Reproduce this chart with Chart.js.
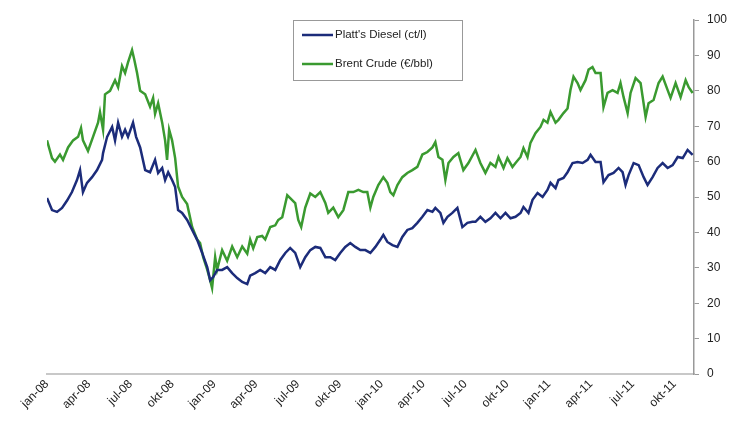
<!DOCTYPE html>
<html>
<head>
<meta charset="utf-8">
<script src="https://cdn.jsdelivr.net/npm/chart.js@4"></script>
<style>
  html, body { margin: 0; padding: 0; background: #fff; }
  #wrap { width: 741px; height: 433px; }
</style>
</head>
<body>
<div id="wrap"><canvas id="myChart" width="741" height="433"></canvas></div>
<script>
// month index since jan-08 (0 = 1 jan 2008)
const quarterLabels = ['jan-08','apr-08','jul-08','okt-08','jan-09','apr-09','jul-09','okt-09',
                       'jan-10','apr-10','jul-10','okt-10','jan-11','apr-11','jul-11','okt-11'];

const dieselMonths = [0,0.36,0.72,1.08,1.44,1.79,2.15,2.37,2.58,2.87,3.23,3.59,3.95,4.02,4.31,4.67,4.88,5.10,5.38,5.60,5.81,6.17,6.39,6.68,7.04,7.39,7.75,7.97,8.26,8.47,8.69,8.97,9.19,9.40,9.69,10.05,10.41,10.77,11.13,11.49,11.70,11.92,12.20,12.56,12.92,13.28,13.64,14.0,14.36,
  14.57,14.93,15.29,15.65,16.01,16.37,16.73,17.09,17.44,17.80,18.16,18.52,18.88,19.24,19.60,19.96,20.32,20.67,21.03,21.39,21.75,22.11,22.47,22.83,23.19,23.55,23.90,24.12,24.41,24.77,25.13,25.48,25.84,26.20,26.56,26.92,27.28,27.64,27.85,28.21,28.43,28.72,29.07,29.43,29.79,30.15,30.51,
  30.73,31.08,31.44,31.80,32.16,32.52,32.88,33.24,33.60,33.96,34.17,34.53,34.82,35.18,35.54,35.89,36.11,36.47,36.68,37.04,37.33,37.69,38.05,38.41,38.77,38.98,39.34,39.70,39.91,40.27,40.63,40.99,41.28,41.49,41.71,42.07,42.43,42.79,43.07,43.43,43.79,44.15,44.51,44.87,45.23,45.59,45.94,46.30];
const dieselValues = [49.7,46.3,45.8,46.9,49.0,51.4,54.8,57.6,51.4,54.0,55.6,57.6,60.5,62.4,67.0,69.8,66.0,71.0,67.0,69.0,67.0,71.0,67.0,64.0,57.6,57.0,60.5,56.8,58.2,54.8,57.0,54.8,52.8,46.3,45.5,43.5,40.7,37.9,34.2,30.2,26.5,27.4,29.4,29.4,30.2,28.5,27.1,26.0,25.4,
  27.8,28.5,29.4,28.5,30.2,29.4,32.2,34.2,35.6,34.2,30.2,33.0,35.0,35.9,35.6,33.0,33.0,32.2,34.2,35.9,37.0,35.9,35.0,35.0,34.2,35.9,37.9,39.3,37.3,36.4,35.9,38.7,40.7,41.2,42.7,44.4,46.3,45.8,46.9,45.5,42.7,44.4,45.5,46.9,41.5,42.7,43.0,
  43.0,44.4,43.0,44.0,45.5,44.0,45.5,44.0,44.4,45.5,47.2,45.5,49.2,51.1,50.0,52.0,54.0,52.5,54.8,55.4,57.0,59.6,59.9,59.6,60.5,61.9,59.9,59.9,54.2,56.2,56.8,58.2,57.0,53.4,56.2,59.6,59.0,55.6,53.4,55.6,58.2,59.6,58.2,59.0,61.3,61.0,63.3,61.9];

const brentMonths = [0,0.36,0.57,0.93,1.15,1.51,1.87,2.23,2.44,2.58,2.94,3.30,3.66,3.80,4.02,4.16,4.52,4.88,5.10,5.38,5.60,5.81,6.10,6.25,6.46,6.68,7.04,7.39,7.61,7.75,7.97,8.26,8.47,8.61,8.76,8.97,9.19,9.40,9.69,10.05,10.41,10.77,10.98,11.20,11.49,11.70,11.84,12.06,12.20,12.56,12.92,13.28,13.64,14.0,14.36,
  14.57,14.79,15.08,15.43,15.65,16.01,16.37,16.58,16.87,17.23,17.44,17.80,18.02,18.23,18.52,18.88,19.24,19.60,19.96,20.17,20.53,20.89,21.25,21.61,21.97,22.33,22.68,22.97,23.19,23.40,23.76,24.12,24.41,24.62,24.84,25.13,25.48,25.84,26.20,26.56,26.92,27.28,27.64,27.85,28.07,28.36,28.57,28.79,29.15,29.50,29.86,30.22,
  30.73,31.08,31.44,31.80,32.16,32.38,32.74,33.02,33.38,33.60,33.96,34.17,34.46,34.67,35.03,35.39,35.61,35.89,36.11,36.47,36.68,37.04,37.33,37.54,37.76,38.05,38.26,38.62,38.84,39.12,39.34,39.70,39.91,40.20,40.56,40.92,41.13,41.35,41.64,41.85,42.21,42.57,42.93,43.14,43.50,43.86,44.15,44.51,44.72,45.08,45.44,45.80,46.02,46.30];
const brentValues = [66.0,61.0,60.0,62.0,60.5,64.0,66.0,67.0,69.5,66.0,63.0,67.0,71.0,74.0,69.0,79.0,80.0,83.0,81.0,87.0,85.0,88.0,91.5,89.0,85.0,80.0,79.0,75.5,78.0,73.5,76.5,71.0,66.0,60.5,69.0,66.0,61.0,53.0,50.0,48.0,41.5,38.0,37.0,33.0,29.5,26.5,24.3,33.0,29.5,35.0,32.0,36.0,33.0,36.0,34.0,
  38.0,35.5,38.7,39.0,38.0,41.5,42.0,43.5,44.3,50.5,49.7,48.3,43.5,41.5,47.0,51.0,50.0,51.4,48.3,45.5,47.0,44.3,46.3,51.4,51.4,52.0,51.4,51.4,47.0,50.0,53.4,55.6,54.0,51.4,50.5,53.4,55.6,56.8,57.6,58.5,62.0,62.7,64.0,65.5,61.3,60.5,54.8,59.6,61.3,62.4,57.6,59.6,
  63.3,59.6,56.8,59.6,58.5,61.3,58.2,61.0,58.5,59.6,61.3,63.8,61.3,65.3,68.0,69.8,71.8,71.0,74.0,71.0,71.8,73.7,75.0,80.2,84.0,82.2,80.2,83.0,86.0,86.7,85.0,85.0,75.4,79.4,80.2,79.4,82.2,78.2,73.7,79.4,83.6,82.2,72.6,76.5,77.4,82.2,84.0,80.2,78.0,82.2,78.2,83.0,81.0,79.4];

function toPoints(xs, ys) {
    return xs.map((x, i) => ({x: x, y: ys[i]}));
}

// legend box drawn inside the plot, like the original
const boxLegend = {
    id: 'boxLegend',
    afterDraw(chart) {
        const c = chart.ctx;
        c.save();
        c.fillStyle = '#fff';
        c.fillRect(293.5, 20.5, 169, 60);
        c.strokeStyle = '#999';
        c.lineWidth = 1;
        c.strokeRect(293.5, 20.5, 169, 60);
        c.font = '11.5px "Liberation Sans", Arial, sans-serif';
        c.textBaseline = 'middle';
        chart.data.datasets.forEach((ds, i) => {
            const y = 35 + i * 29;
            c.strokeStyle = ds.borderColor;
            c.lineWidth = 2.5;
            c.beginPath();
            c.moveTo(302, y);
            c.lineTo(333, y);
            c.stroke();
            c.fillStyle = '#222';
            c.fillText(ds.label, 335, y);
        });
        c.restore();
    }
};

const ctx = document.getElementById('myChart').getContext('2d');
const myChart = new Chart(ctx, {
    type: 'line',
    data: {
        datasets: [{
            label: "Platt's Diesel (ct/l)",
            data: toPoints(dieselMonths, dieselValues),
            borderColor: '#1c2c7a',
            borderWidth: 2.5,
            pointRadius: 0,
            tension: 0
        },
        {
            label: 'Brent Crude (€/bbl)',
            data: toPoints(brentMonths, brentValues),
            borderColor: '#3a9a30',
            borderWidth: 2.5,
            pointRadius: 0,
            tension: 0
        }]
    },
    options: {
        responsive: false,
        animation: false,
        layout: { padding: { left: 47, top: 20, right: 0, bottom: 0 } },
        plugins: {
            legend: { display: false },
            tooltip: { enabled: false }
        },
        scales: {
            x: {
                type: 'linear',
                min: 0,
                max: 46.4,
                afterBuildTicks: (scale) => {
                    scale.ticks = quarterLabels.map((l, i) => ({value: i * 3}));
                },
                afterFit: (scale) => { scale.height = 59; },
                ticks: {
                    autoSkip: false,
                    minRotation: 45,
                    maxRotation: 45,
                    color: '#222',
                    padding: 3,
                    font: { family: '"Liberation Sans", Arial, sans-serif', size: 12 },
                    callback: (v) => quarterLabels[Math.round(v / 3)]
                },
                grid: { drawOnChartArea: false, drawTicks: false },
                border: { color: '#c8c8c8', width: 2 }
            },
            y: {
                position: 'right',
                min: 0,
                max: 100,
                afterFit: (scale) => { scale.width = 47; },
                ticks: {
                    stepSize: 10,
                    color: '#222',
                    padding: 8,
                    font: { family: '"Liberation Sans", Arial, sans-serif', size: 12 }
                },
                grid: { drawOnChartArea: false, tickLength: 5, color: '#999' },
                border: { color: '#999', width: 1.5 }
            }
        }
    },
    plugins: [boxLegend]
});
</script>
</body>
</html>
